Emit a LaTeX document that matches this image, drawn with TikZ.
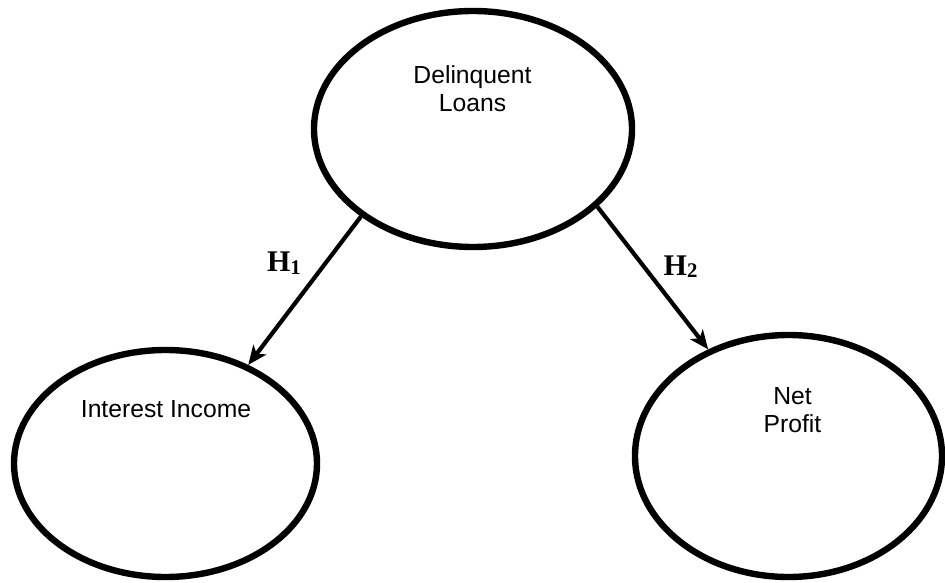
\documentclass[tikz,border=0pt]{standalone}
\usepackage{fontspec}
\setmainfont{Liberation Sans}
\newfontfamily\hfont{Liberation Serif}
\usetikzlibrary{shapes.geometric,arrows.meta}
\begin{document}
\begin{tikzpicture}[x=0.5pt,y=-0.5pt,
  construct/.style={ellipse, draw=black, line width=3.2pt, inner sep=0pt},
  lbl/.style={inner sep=0pt, font=\fontsize{12.35pt}{14.25pt}\selectfont, align=center},
  hyp/.style={inner sep=0pt, anchor=base west, font=\hfont\bfseries\fontsize{15pt}{18pt}\selectfont},
  link/.style={line width=2.1pt, -{Stealth[length=9.5pt,width=8pt,inset=2.5pt]}}]
\useasboundingbox (0,0) rectangle (945,582);
\node[construct, minimum width=159pt, minimum height=118pt] (dl) at (473,129) {};
\node[construct, minimum width=151.5pt, minimum height=113.5pt] (ii) at (165.5,463.5) {};
\node[construct, minimum width=153.5pt, minimum height=121pt] (np) at (788.5,456) {};
\node[lbl, anchor=north] (dlt) at (472.5,65) {Delinquent\\Loans};
\node[lbl, anchor=north] (iit) at (166,400) {Interest Income};
\node[lbl, anchor=north] (npt) at (792.5,387) {Net\\Profit};
\node[hyp] (h1) at (266.7,271.7) {H\raisebox{-1.2pt}{\fontsize{10.4pt}{12pt}\selectfont 1}};
\node[hyp] (h2) at (663.3,275) {H\raisebox{-1.2pt}{\fontsize{10.4pt}{12pt}\selectfont 2}};
\draw[link] (dl.218.4) -- (ii.50.6);
\draw[link] (dl.-32.8) -- (np.127.9);
\end{tikzpicture}
\end{document}
